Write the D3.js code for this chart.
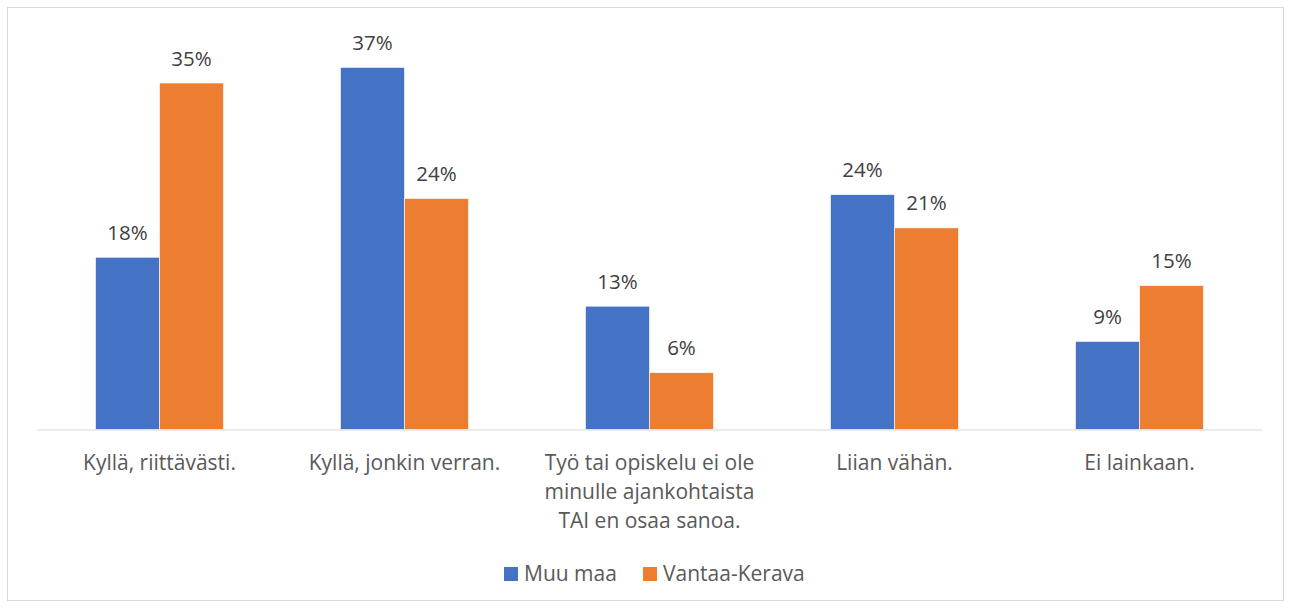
<!DOCTYPE html>
<meta charset="utf-8" />
<script src="https://d3js.org/d3.v7.min.js"></script>
<style>
  body { margin: 0; background: #fff; }
  text { font-family: "Open Sans", sans-serif; }
</style>
<div id="chart"></div>
<script>
  // Data
  const categories = [
    ["Kyllä, riittävästi."],
    ["Kyllä, jonkin verran."],
    ["Työ tai opiskelu ei ole", "minulle ajankohtaista", "TAI en osaa sanoa."],
    ["Liian vähän."],
    ["Ei lainkaan."]
  ];
  const seriesNames = ["Muu maa", "Vantaa-Kerava"];
  const muuMaa = [17.6, 37.0, 12.6, 24.0, 9.0];
  const vantaaKerava = [35.4, 23.6, 5.8, 20.6, 14.7];
  const colors = ["#4472C4", "#ED7D31"];

  const W = 1291, H = 608;
  const svg = d3.select("#chart").append("svg")
    .attr("width", W).attr("height", H);

  // outer chart border
  svg.append("rect")
    .attr("x", 7.5).attr("y", 7.5)
    .attr("width", 1276).attr("height", 593)
    .attr("fill", "#fff").attr("stroke", "#d9d9d9");

  const rows = categories.map((c, i) => ({ cat: c, i: i, vals: [muuMaa[i], vantaaKerava[i]] }));

  const x0 = d3.scaleBand()
    .domain(d3.range(categories.length))
    .range([37, 1262])
    .paddingInner(0.4776)
    .paddingOuter(0.2388);

  const x1 = d3.scaleBand()
    .domain([0, 1])
    .range([0, x0.bandwidth()]);

  const y = d3.scaleLinear().domain([0, 40]).range([429.5, 38]);

  const groups = svg.append("g").selectAll("g")
    .data(rows).join("g")
    .attr("transform", d => `translate(${x0(d.i)},0)`);

  groups.selectAll("rect")
    .data(d => d.vals.map((v, s) => ({ v, s })))
    .join("rect")
    .attr("x", d => x1(d.s))
    .attr("y", d => y(d.v))
    .attr("width", x1.bandwidth())
    .attr("height", d => y(0) - y(d.v))
    .attr("fill", d => colors[d.s])
    .attr("stroke", "#fff")
    .attr("stroke-width", 0.6);

  groups.selectAll("text.val")
    .data(d => d.vals.map((v, s) => ({ v, s })))
    .join("text")
    .attr("class", "val")
    .attr("x", d => x1(d.s) + x1.bandwidth() / 2)
    .attr("y", d => y(d.v) - 17.5)
    .attr("text-anchor", "middle")
    .attr("fill", "#404040")
    .style("font-size", "20.5px")
    .text(d => Math.round(d.v) + "%");

  // baseline
  svg.append("line")
    .attr("x1", 37).attr("x2", 1262)
    .attr("y1", y(0) + 0.5).attr("y2", y(0) + 0.5)
    .attr("stroke", "#d9d9d9").attr("stroke-width", 1);

  // category labels
  const catText = svg.append("g").selectAll("text")
    .data(rows).join("text")
    .attr("x", d => x0(d.i) + x0.bandwidth() / 2)
    .attr("y", 470)
    .attr("text-anchor", "middle")
    .attr("fill", "#595959")
    .style("font-size", "21px");

  catText.selectAll("tspan")
    .data(d => d.cat.map((line, k) => ({ line, k, cx: x0(d.i) + x0.bandwidth() / 2 })))
    .join("tspan")
    .attr("x", d => d.cx)
    .attr("dy", d => d.k === 0 ? 0 : 29)
    .text(d => d.line);

  // legend
  const legendX = [504, 643];
  const legend = svg.append("g").selectAll("g")
    .data(seriesNames).join("g")
    .attr("transform", (d, i) => `translate(${legendX[i]},567)`);

  legend.append("rect")
    .attr("width", 14).attr("height", 14)
    .attr("fill", (d, i) => colors[i]);

  legend.append("text")
    .attr("x", 20).attr("y", 13.5)
    .attr("fill", "#595959")
    .style("font-size", "21px")
    .text(d => d);
</script>
